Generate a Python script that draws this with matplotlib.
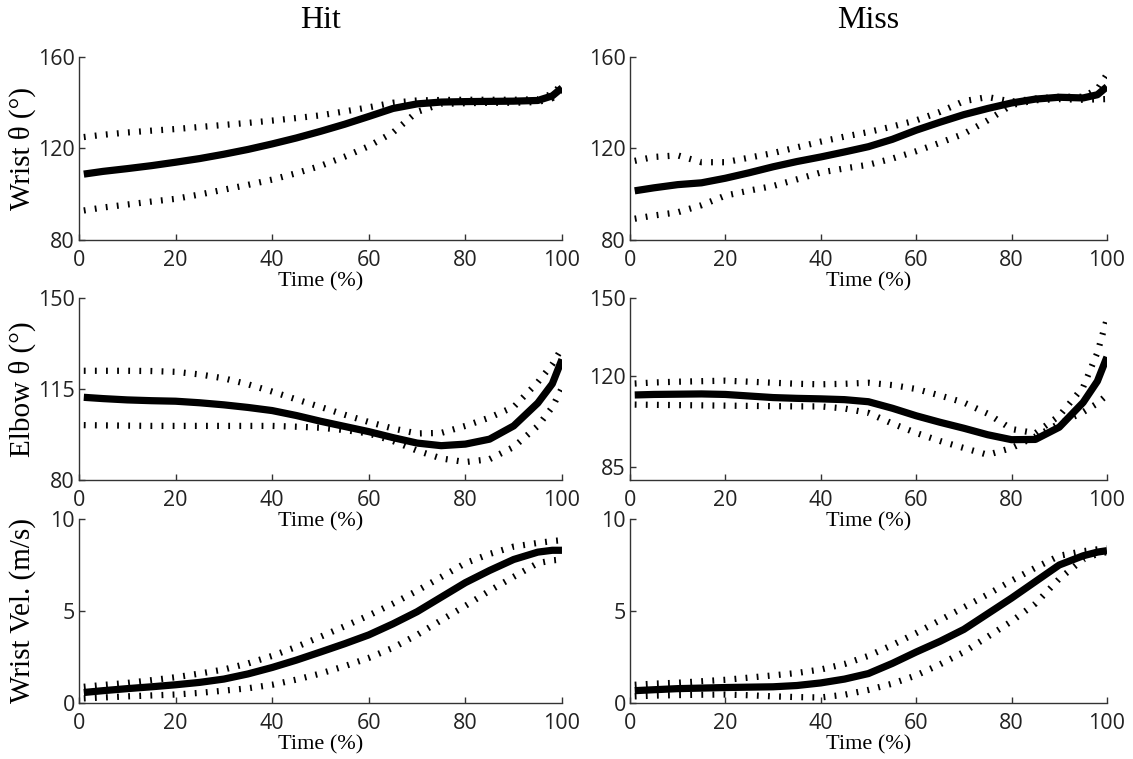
import numpy as np
import matplotlib.pyplot as plt

# 시간 축 (%)
time_pct = [1, 5, 10, 15, 20, 25, 30, 35, 40, 45, 50, 55, 60, 65, 70, 75, 80, 85, 90, 95, 98, 100]

# Hit - 손목 각도 (평균 / 상한 / 하한)
hit_wrist_mean = [108.8, 110, 111.2, 112.5, 114, 115.6, 117.5, 119.6, 122, 124.6, 127.5, 130.6, 134, 137.5, 139.5, 140.3, 140.5, 140.6, 140.7, 141, 143, 146.5]
hit_wrist_upper = [125, 126, 127, 127.8, 128.5, 129.4, 130.3, 131.2, 132.2, 133.3, 134.5, 136.2, 138, 140, 141, 141.2, 141.3, 141.3, 141.3, 141.5, 144, 148]
hit_wrist_lower = [92.9, 94.2, 95.5, 96.8, 98, 99.9, 102, 104.1, 106.4, 109.2, 112.4, 116.4, 121, 127, 136, 139.5, 139.8, 140, 140, 140.3, 142, 145.5]

# Miss - 손목 각도
miss_wrist_mean = [101.5, 102.8, 104.2, 105, 107, 109.4, 112, 114.3, 116.3, 118.5, 120.8, 124, 128, 131.5, 134.8, 137.5, 139.9, 141.6, 142.4, 142.1, 143.5, 147]
miss_wrist_upper = [114.6, 116.3, 117, 114, 114, 116, 118, 120.5, 123, 125.2, 127.2, 129.6, 132.3, 136, 140.7, 142.5, 140.5, 141.8, 142.6, 142.6, 146, 152.5]
miss_wrist_lower = [89.3, 90.7, 92.1, 95.2, 99.4, 101.6, 103.6, 106.5, 109.5, 111.3, 112.9, 115.6, 118.8, 122.5, 126.4, 132.3, 139, 141.1, 141.6, 141.3, 141.5, 141.6]

# Hit - 팔꿈치 각도
hit_elbow_mean = [111.8, 111.3, 110.8, 110.5, 110.3, 109.7, 108.9, 107.9, 106.7, 104.8, 102.6, 100.6, 98.6, 96.3, 94.2, 93.2, 93.8, 95.7, 100.8, 109.6, 117, 126.4]
hit_elbow_upper = [122, 122, 122, 121.9, 121.6, 120.6, 119.1, 116.8, 114, 111, 108.1, 105.1, 102.3, 99.8, 97.9, 98.1, 100.8, 104, 108.1, 117.6, 124.5, 130.8]
hit_elbow_lower = [101.1, 101, 100.9, 100.8, 100.8, 100.8, 100.8, 100.8, 100.8, 100.5, 100.1, 99.2, 97.9, 95, 91.3, 88.3, 86.9, 88, 92.7, 100.8, 108, 115.4]

# Miss - 팔꿈치 각도
miss_elbow_mean = [112.7, 112.9, 113, 113.1, 112.9, 112.3, 111.7, 111.4, 111.2, 110.9, 110.1, 107.6, 104.7, 102.2, 99.9, 97.4, 95.5, 95.6, 100.3, 109.8, 118, 127.3]
miss_elbow_upper = [117.1, 117.5, 117.8, 118, 118.2, 117.8, 117.4, 117, 116.8, 117, 117.4, 116.5, 115, 112.5, 109.8, 105.5, 99.6, 98, 104.7, 115.7, 129, 142]
miss_elbow_lower = [109, 108.9, 108.8, 108.7, 108.6, 108.5, 108.4, 108.3, 108.3, 107.5, 105.8, 101.7, 98.1, 95, 92.3, 89.7, 92.3, 96.7, 101.7, 106.1, 109.5, 112.7]

# Hit - 손목 속도
hit_vel_mean = [0.57, 0.67, 0.78, 0.88, 0.99, 1.12, 1.3, 1.58, 1.93, 2.33, 2.77, 3.22, 3.7, 4.3, 4.96, 5.75, 6.54, 7.2, 7.8, 8.2, 8.3, 8.3]
hit_vel_upper = [0.88, 0.98, 1.09, 1.24, 1.4, 1.6, 1.82, 2.15, 2.56, 3.05, 3.6, 4.17, 4.76, 5.4, 6.1, 6.85, 7.6, 8.1, 8.5, 8.7, 8.8, 8.85]
hit_vel_lower = [0.25, 0.3, 0.36, 0.41, 0.46, 0.55, 0.67, 0.8, 0.99, 1.27, 1.6, 2.0, 2.45, 3.0, 3.7, 4.5, 5.28, 6.1, 6.86, 7.6, 7.75, 7.8]

# Miss - 손목 속도
miss_vel_mean = [0.67, 0.72, 0.78, 0.81, 0.84, 0.86, 0.88, 0.95, 1.09, 1.3, 1.6, 2.15, 2.77, 3.35, 4.0, 4.85, 5.7, 6.6, 7.5, 8.0, 8.2, 8.28]
miss_vel_upper = [0.99, 1.05, 1.1, 1.18, 1.26, 1.38, 1.5, 1.63, 1.82, 2.12, 2.56, 3.15, 3.8, 4.5, 5.2, 5.9, 6.65, 7.35, 8.0, 8.25, 8.35, 8.4]
miss_vel_lower = [0.36, 0.4, 0.43, 0.45, 0.46, 0.42, 0.36, 0.32, 0.3, 0.45, 0.71, 1.05, 1.5, 2.1, 2.77, 3.6, 4.44, 5.4, 6.75, 7.8, 8.1, 8.2]

x_ticks = [0, 20, 40, 60, 80, 100]

plt.rcParams['lines.scale_dashes'] = False
serif = ['Liberation Serif', 'DejaVu Serif']
tick_font = 'Open Sans'

fig = plt.figure(figsize=(11.33, 7.59), dpi=100)

# 각 패널 위치 [left, bottom, width, height]
col_left = [0.0697, 0.556]
col_width = [0.4263, 0.421]
row_bottom = [0.6838, 0.3676, 0.0738]
row_height = [0.2411, 0.2398, 0.2424]

panels = [
    # (row, col, mean, upper, lower, ylim, yticks, ylabel)
    (0, 0, hit_wrist_mean, hit_wrist_upper, hit_wrist_lower, (80, 160), [80, 120, 160], 'Wrist θ (°)'),
    (0, 1, miss_wrist_mean, miss_wrist_upper, miss_wrist_lower, (80, 160), [80, 120, 160], None),
    (1, 0, hit_elbow_mean, hit_elbow_upper, hit_elbow_lower, (80, 150), [80, 115, 150], 'Elbow θ (°)'),
    (1, 1, miss_elbow_mean, miss_elbow_upper, miss_elbow_lower, (80, 150), [85, 120, 150], None),
    (2, 0, hit_vel_mean, hit_vel_upper, hit_vel_lower, (0, 10), [0, 5, 10], 'Wrist Vel. (m/s)'),
    (2, 1, miss_vel_mean, miss_vel_upper, miss_vel_lower, (0, 10), [0, 5, 10], None),
]

dot_style = dict(color='black', linewidth=4.5, linestyle=(0, (1.3, 6.7)),
                 dash_capstyle='butt', dash_joinstyle='round')

for row, col, mean, upper, lower, ylim, yticks, ylabel in panels:
    ax = fig.add_axes([col_left[col], row_bottom[row], col_width[col], row_height[row]])
    ax.patch.set_visible(False)  # 위 패널의 x축 라벨이 가려지지 않도록
    ax.plot(time_pct, upper, **dot_style)
    ax.plot(time_pct, lower, **dot_style)
    ax.plot(time_pct, mean, color='black', linewidth=5.2,
            solid_capstyle='butt', solid_joinstyle='round')

    ax.set_xlim(0, 100)
    ax.set_ylim(*ylim)
    ax.set_xticks(x_ticks)
    ax.set_yticks(yticks)
    ax.spines['top'].set_visible(False)
    ax.spines['right'].set_visible(False)
    for side in ['left', 'bottom']:
        ax.spines[side].set_color('#333333')
        ax.spines[side].set_linewidth(1.0)
    ax.tick_params(direction='in', length=4, width=1, color='#333333',
                   labelsize=15.5, labelcolor='#222222')
    ax.tick_params(axis='x', pad=7)
    ax.tick_params(axis='y', pad=3)
    for lbl in ax.get_xticklabels() + ax.get_yticklabels():
        lbl.set_fontfamily(tick_font)

    ax.set_xlabel('Time (%)', fontsize=16, family=serif, labelpad=1)
    if ylabel:
        ax.set_ylabel(ylabel, fontsize=21, family=serif)
        ax.yaxis.set_label_coords(-0.09, 0.5)
    if row == 0:
        ax.set_title('Hit' if col == 0 else 'Miss', fontsize=23, family=serif, pad=21)

fig.savefig('out.png', dpi=100)
